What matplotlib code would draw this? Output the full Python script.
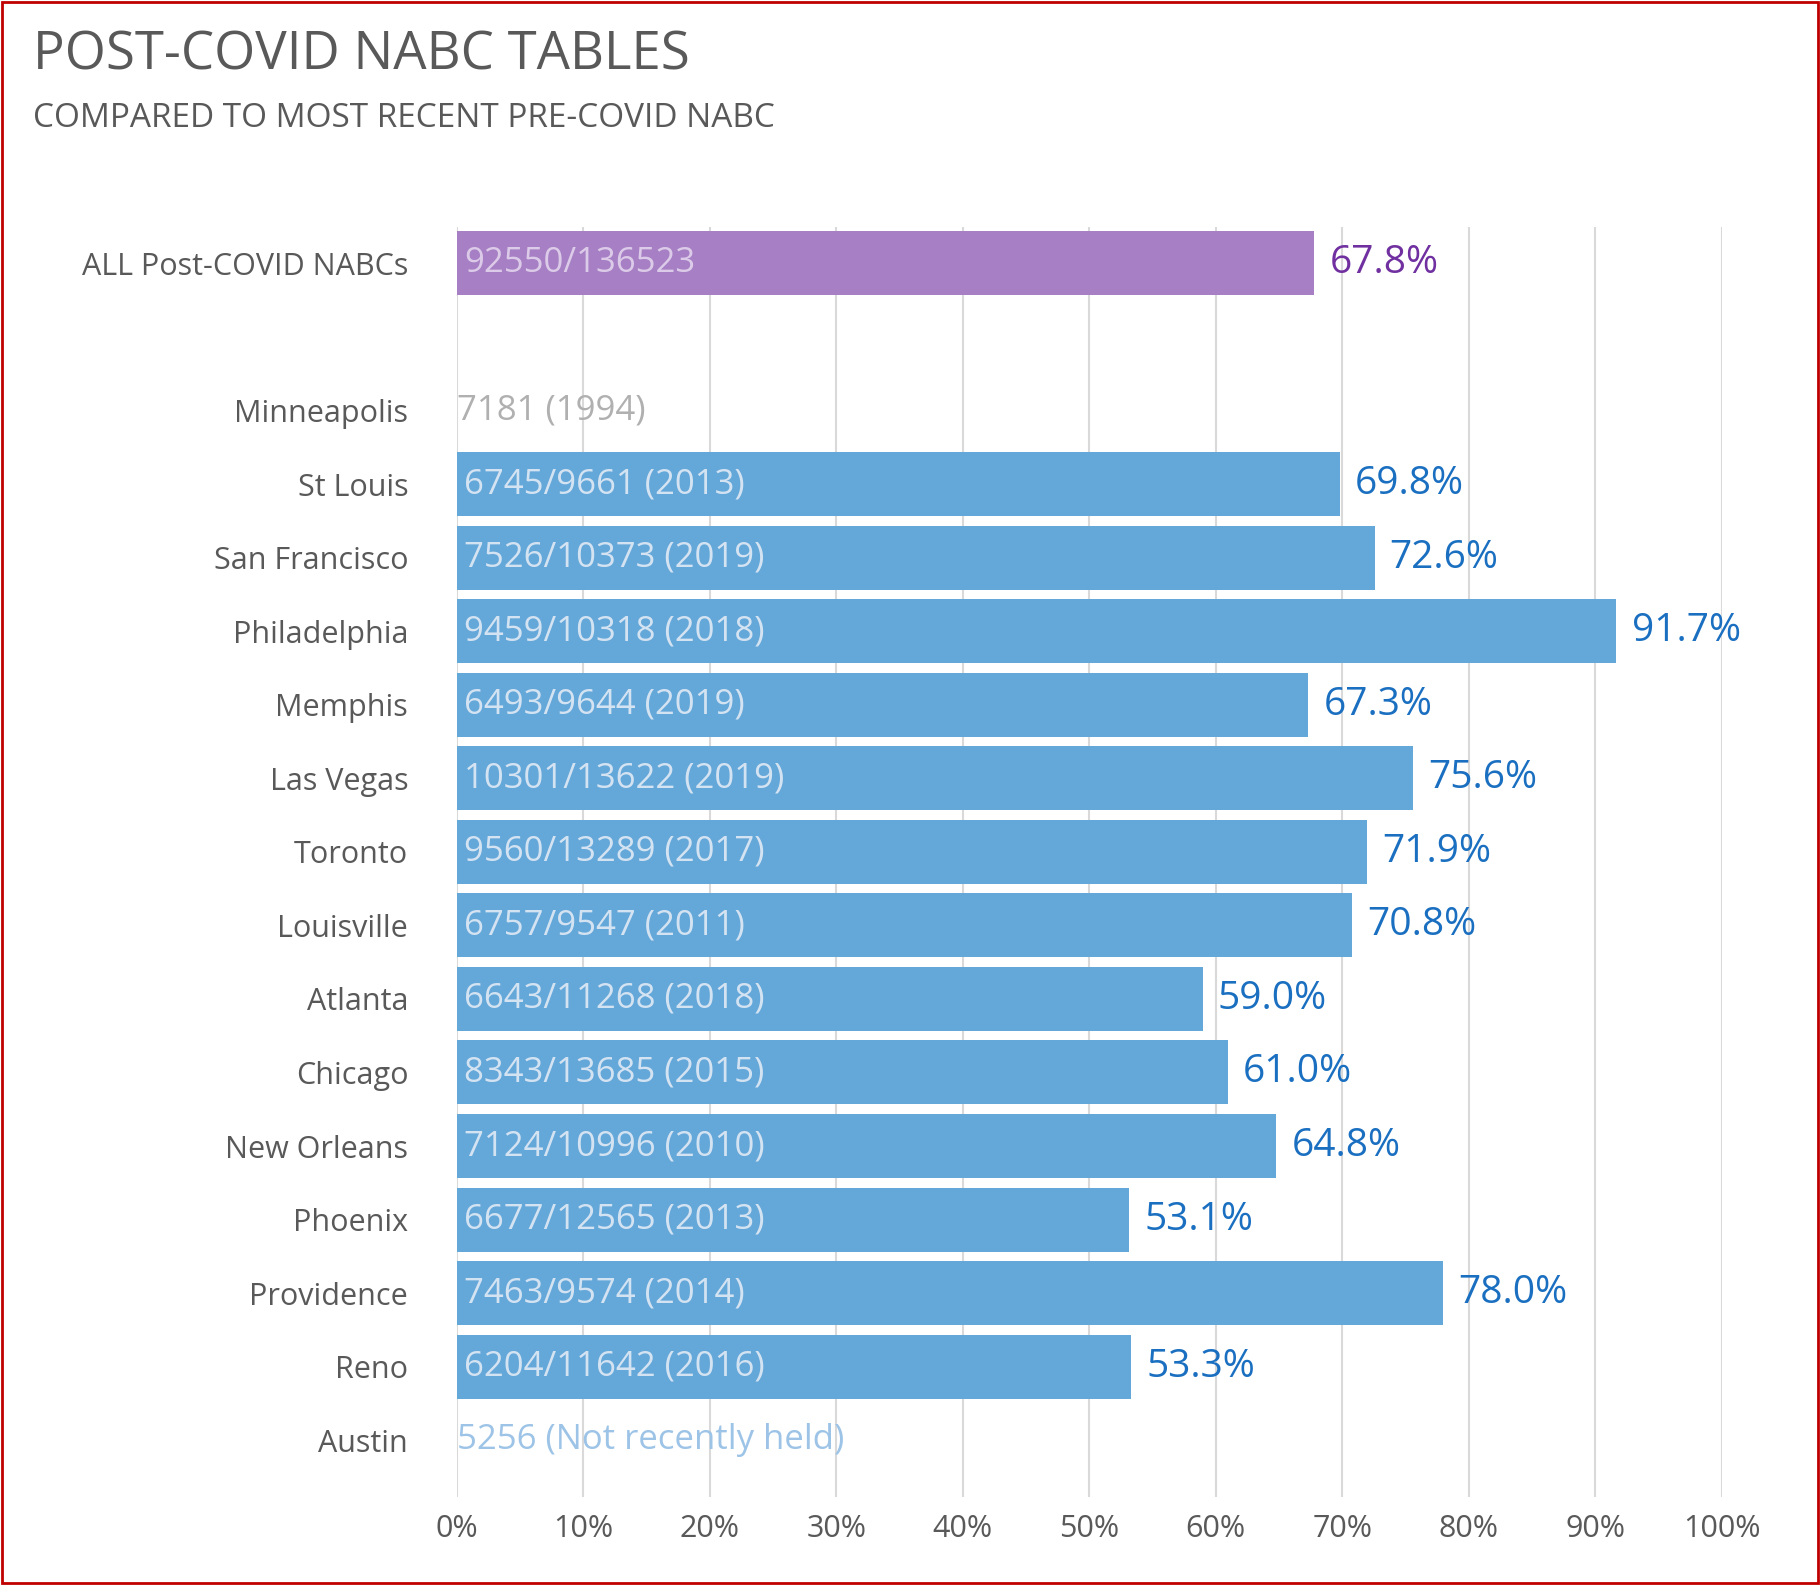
import matplotlib
matplotlib.use('Agg')
import matplotlib.pyplot as plt
from matplotlib.patches import Rectangle

plt.rcParams['font.family'] = ['Open Sans', 'DejaVu Sans']

cities = ['Minneapolis', 'St Louis', 'San Francisco', 'Philadelphia', 'Memphis', 'Las Vegas',
          'Toronto', 'Louisville', 'Atlanta', 'Chicago', 'New Orleans', 'Phoenix',
          'Providence', 'Reno', 'Austin']
post = [7181, 6745, 7526, 9459, 6493, 10301, 9560, 6757, 6643, 8343, 7124, 6677, 7463, 6204, 5256]
pre = [None, 9661, 10373, 10318, 9644, 13622, 13289, 9547, 11268, 13685, 10996, 12565, 9574, 11642, None]
pre_year = ['1994', '2013', '2019', '2018', '2019', '2019', '2017', '2011', '2018', '2015',
            '2010', '2013', '2014', '2016', 'Not recently held']
all_post, all_pre = 92550, 136523

fig = plt.figure(figsize=(18.2, 15.85), dpi=100)
fig.patches.append(Rectangle((0.001, 0.001), 0.998, 0.998, transform=fig.transFigure,
                             fill=False, edgecolor='#c00000', linewidth=2))
ax = fig.add_axes([0.251, 0.0556, 0.695, 0.8014])

blue, blue_txt, in_txt = '#64a7d9', '#1a6fc0', '#d4e3f2'
h = 0.87
for i, c in enumerate(cities):
    if pre[i] is None:
        col = '#b0b0b0' if i == 0 else '#9dc4e7'
        ax.text(0.006, i, f'{post[i]} ({pre_year[i]})', va='center', ha='left',
                fontsize=25, color=col)
        continue
    v = post[i] / pre[i] * 100
    ax.barh(i, v, height=h, color=blue)
    ax.text(0.6, i, f'{post[i]}/{pre[i]} ({pre_year[i]})', va='center', ha='left',
            fontsize=25, color=in_txt)
    ax.text(v + 1.2, i, f'{v:.1f}%', va='center', ha='left', fontsize=28, color=blue_txt)

va = all_post / all_pre * 100
ax.barh(-2, va, height=h, color='#a77fc5')
ax.text(0.6, -2, f'{all_post}/{all_pre}', va='center', ha='left', fontsize=25, color='#dccbe8')
ax.text(va + 1.2, -2, f'{va:.1f}%', va='center', ha='left', fontsize=28, color='#7030a0')

ax.set_yticks([-2] + list(range(len(cities))))
ax.set_yticklabels(['ALL Post-COVID NABCs'] + cities, fontsize=22, color='#595959')
ax.set_xlim(0, 100)
ax.set_ylim(14.77, -2.5)
ax.set_xticks(range(0, 101, 10))
ax.set_xticklabels([f'{t}%' for t in range(0, 101, 10)], fontsize=22, color='#595959')
ax.tick_params(length=0, pad=12)
ax.tick_params(axis='y', pad=35)
ax.grid(axis='x', color='#d9d9d9', linewidth=1.5)
ax.set_axisbelow(True)
for s in ax.spines.values():
    s.set_visible(False)

fig.text(0.018, 0.965, 'POST-COVID NABC TABLES', fontsize=38, color='#595959', va='center')
fig.text(0.018, 0.925, 'COMPARED TO MOST RECENT PRE-COVID NABC', fontsize=24, color='#595959',
         va='center')

fig.savefig('out.png', dpi=100)
